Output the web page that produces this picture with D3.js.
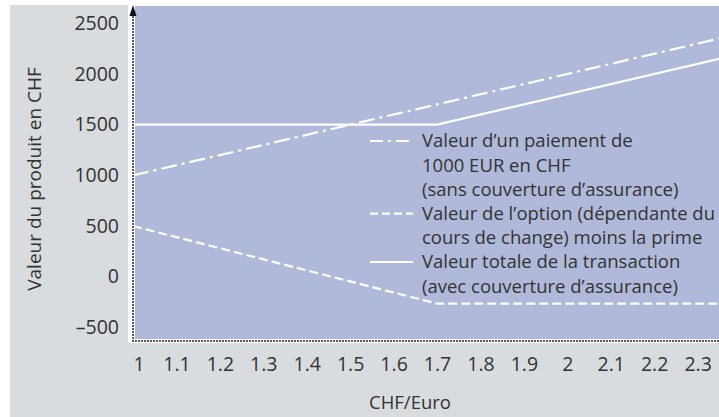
<!DOCTYPE html>
<html>
<head>
<meta charset="utf-8">
<script src="https://cdn.jsdelivr.net/npm/d3@7"></script>
<style>
    body { margin: 0; background: #fff; }
    svg { display: block; font-family: "Open Sans", "Noto Sans", sans-serif; }
    .tick text { fill: #333; font-size: 19.5px; }
</style>
</head>
<body>
<div id="chart"></div>
<script>
// values
const rates = [1, 1.7, 2.35];
const paymentValues = [1000, 1700, 2350];   // 1000 EUR paid in CHF
const optionValues = [500, -265, -265];     // option minus premium
const totalValues = [1500, 1500, 2150];     // payment + option

const xTicks = [1, 1.1, 1.2, 1.3, 1.4, 1.5, 1.6, 1.7, 1.8, 1.9, 2, 2.1, 2.2, 2.3];
const yTicks = [-500, 0, 500, 1000, 1500, 2000, 2500];

const legendLabels = [
    ["Valeur d\u2019un paiement de", "1000 EUR en CHF", "(sans couverture d\u2019assurance)"],
    ["Valeur de l\u2019option (d\u00e9pendante du", "cours de change) moins la prime"],
    ["Valeur totale de la transaction", "(avec couverture d\u2019assurance)"]
];
const dashes = ["16,5,3,5", "9,4", null];

const w = 719,
    h = 417;

const plot = {left: 133, right: 719.3, top: 6, bottom: 341};

const x = d3.scaleLinear().domain([1, 2.35]).range([plot.left, plot.right]);
const y = d3.scaleLinear().domain([-634, 2671]).range([plot.bottom, plot.top]);

const svg = d3.select("#chart")
    .append("svg")
    .attr("width", w)
    .attr("height", h);

// grey panel, white frame, blue plot area
svg.append("rect").attr("x", 10).attr("y", 5).attr("width", w - 10).attr("height", h - 5).attr("fill", "#d9dcdf");
svg.append("rect").attr("x", 128).attr("y", 0).attr("width", w - 128).attr("height", 343).attr("fill", "#fff");
svg.append("rect").attr("x", 135).attr("y", 6).attr("width", w - 135).attr("height", 333).attr("fill", "#b0b9d9");

// series
const series = [paymentValues, optionValues, totalValues];
const line = d3.line()
    .x(function (d) { return x(d[0]); })
    .y(function (d) { return y(d[1]); });

series.forEach(function (vals, i) {
    svg.append("path")
        .datum(rates.map((r, j) => [r, vals[j]]))
        .attr("fill", "none")
        .attr("stroke", "#fff")
        .attr("stroke-width", 2.2)
        .attr("stroke-dasharray", dashes[i])
        .attr("d", line);
});

// axes (labels only, dotted lines drawn below)
let gx = svg.append("g")
    .attr("transform", "translate(0," + plot.bottom + ")")
    .call(d3.axisBottom(x).tickValues(xTicks).tickSize(0).tickPadding(16).tickFormat(d3.format("~g")));
gx.select(".domain").remove();
gx.selectAll(".tick text").filter(d => d === 1).attr("text-anchor", "start");

let gy = svg.append("g")
    .attr("transform", "translate(" + plot.left + ",0)")
    .call(d3.axisLeft(y).tickValues(yTicks).tickSize(0).tickPadding(14)
        .tickFormat(d => d < 0 ? "\u2013" + Math.abs(d) : d));
gy.select(".domain").remove();

// let the css font win over the axis defaults
[gx, gy].forEach(g => g.attr("font-family", null).attr("font-size", null));

svg.append("line")
    .attr("x1", plot.left).attr("x2", plot.left)
    .attr("y1", 14).attr("y2", plot.bottom)
    .attr("stroke", "#222").attr("stroke-width", 2)
    .attr("stroke-linecap", "round").attr("stroke-dasharray", "0,3");
svg.append("line")
    .attr("x1", plot.left).attr("x2", w)
    .attr("y1", plot.bottom).attr("y2", plot.bottom)
    .attr("stroke", "#222").attr("stroke-width", 2)
    .attr("stroke-linecap", "round").attr("stroke-dasharray", "0,3");
svg.append("path")
    .attr("d", d3.line()([[plot.left - 3.5, 16], [plot.left, 5], [plot.left + 3.5, 16]]) + "Z")
    .attr("fill", "#111");

// axis titles
svg.append("text")
    .attr("x", 410).attr("y", 409)
    .attr("text-anchor", "middle")
    .attr("fill", "#333").style("font-size", "18.5px")
    .text("CHF/Euro");

svg.append("text")
    .attr("transform", "translate(41,179) rotate(-90)")
    .attr("text-anchor", "middle")
    .attr("fill", "#333").style("font-size", "19px")
    .text("Valeur du produit en CHF");

// legend
const lineH = 24.2;
let row = 0;
legendLabels.forEach(function (lines, i) {
    let yy = 141 + row * lineH;
    svg.append("line")
        .attr("x1", 370).attr("x2", 413)
        .attr("y1", yy).attr("y2", yy)
        .attr("stroke", "#fff").attr("stroke-width", 2.2)
        .attr("stroke-dasharray", dashes[i] ? (i === 0 ? "13,5,3,5" : "8,4") : null);
    let t = svg.append("text")
        .attr("fill", "#333").style("font-size", "18.5px");
    lines.forEach(function (s, k) {
        t.append("tspan")
            .attr("x", 422)
            .attr("y", yy + k * lineH)
            .attr("dy", "0.35em")
            .text(s);
    });
    row += lines.length;
});
</script>
</body>
</html>
